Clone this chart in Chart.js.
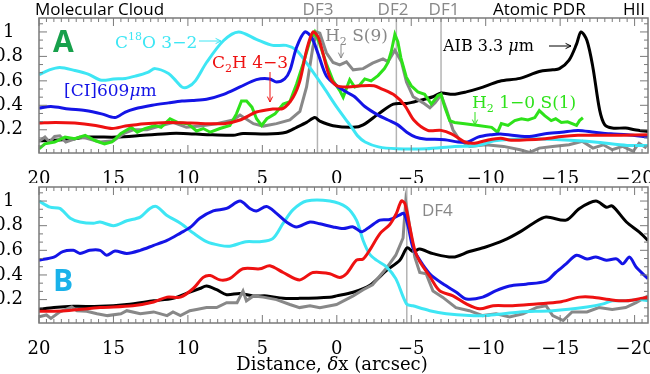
<!DOCTYPE html>
<html lang="en">
<head>
<meta charset="utf-8"/>
<title>Cuts A and B</title>
<script src="https://cdn.jsdelivr.net/npm/chart.js"></script>
<style>
  html, body { margin: 0; padding: 0; background: #fff; }
  .wrap { position: relative; width: 650px; height: 374px; }
  canvas { position: absolute; left: 0; top: 0; }
</style>
</head>
<body>
<div class="wrap">
<canvas id="cutA" width="650" height="374"></canvas>
<canvas id="cutB" width="650" height="374"></canvas>
</div>
<script>
  // axis ticks
  const xTicks = [20, 15, 10, 5, 0, -5, -10, -15, -20];
  const yTicks = [0.2, 0.4, 0.6, 0.8, 1];
  const dfA = [1.3, -4.0, -7.0];
  const dfB = [-4.7];

  // panel A profiles, [dx, normalised intensity]
  const aCyan = [[20,0.65],[19.3,0.69],[18.6,0.71],[17.6,0.685],[16.7,0.655],[15.8,0.605],[15,0.615],[14.2,0.62],[13.5,0.64],[12.7,0.67],[12.2,0.70],[11.3,0.66],[10.8,0.60],[10.4,0.55],[10,0.55],[9.5,0.60],[8.75,0.75],[7.6,0.93],[6.6,1.0],[5.4,0.94],[4.3,0.89],[3.4,0.89],[2.7,0.85],[2.0,0.74],[0.9,0.55],[0,0.385],[-0.75,0.26],[-1,0.22],[-1.4,0.15],[-1.9,0.10],[-2.8,0.06],[-4,0.045],[-6,0.045],[-7.9,0.064],[-9.5,0.072],[-10.6,0.11],[-12.8,0.127],[-15,0.118],[-17.3,0.10],[-19.5,0.072],[-20.9,0.072]];
  const aBlue = [[20,0.377],[19.2,0.39],[18,0.37],[16.9,0.357],[15.8,0.33],[14.9,0.30],[14.2,0.345],[13.6,0.37],[12.4,0.40],[11.3,0.42],[10.4,0.435],[9.7,0.44],[8.75,0.45],[7.6,0.49],[6.5,0.55],[5.4,0.61],[4.5,0.616],[4.05,0.59],[3.5,0.616],[3.15,0.684],[2.7,0.875],[2.15,1.0],[1.7,0.957],[1.25,0.82],[0.7,0.64],[0,0.56],[-0.76,0.5],[-1.2,0.47],[-1.88,0.39],[-2.77,0.32],[-3.44,0.28],[-4.1,0.24],[-4.7,0.18],[-5.3,0.14],[-5.9,0.125],[-7.25,0.118],[-8.14,0.10],[-8.8,0.10],[-9.48,0.14],[-10.4,0.16],[-11,0.165],[-12.8,0.145],[-14,0.167],[-15.1,0.18],[-16.2,0.195],[-17.3,0.18],[-18.4,0.167],[-19.5,0.16],[-20.9,0.14]];
  const aRed = [[20,0.255],[18.9,0.26],[17.6,0.255],[16.2,0.235],[15.1,0.21],[14.2,0.23],[12.9,0.25],[11.3,0.26],[9.8,0.255],[7.6,0.25],[6.5,0.28],[5.4,0.345],[4.3,0.37],[3.6,0.375],[2.93,0.467],[2.48,0.60],[2.03,0.85],[1.6,1.0],[1.25,0.957],[0.92,0.82],[0.47,0.63],[0,0.56],[-0.76,0.55],[-1.66,0.56],[-2.5,0.56],[-3.0,0.535],[-3.9,0.48],[-4.56,0.40],[-5.2,0.275],[-6.1,0.195],[-7,0.195],[-7.7,0.167],[-8.6,0.10],[-9.25,0.09],[-10.1,0.115],[-11,0.13],[-11.7,0.115],[-14,0.127],[-15.1,0.145],[-16.2,0.155],[-17.7,0.155],[-19.1,0.155],[-20.9,0.16]];
  const aGreen = [[20,0.045],[19.6,0.085],[18.95,0.10],[18.25,0.14],[17.6,0.127],[16.9,0.155],[16.2,0.11],[15.6,0.085],[15.1,0.10],[14.5,0.17],[13.8,0.22],[13.4,0.18],[12.9,0.21],[12.2,0.235],[11.8,0.22],[11.2,0.29],[10.7,0.26],[10.0,0.25],[9.42,0.19],[8.97,0.21],[8.5,0.18],[7.85,0.21],[7.18,0.235],[6.74,0.33],[6.4,0.435],[6.06,0.435],[5.7,0.385],[5.39,0.29],[5.05,0.235],[4.7,0.29],[4.15,0.33],[3.6,0.41],[3.15,0.43],[2.7,0.575],[2.26,0.74],[1.8,0.93],[1.48,1.0],[1.14,0.90],[0.7,0.74],[0.25,0.60],[-0.2,0.52],[-0.43,0.465],[-0.76,0.575],[-0.87,0.61],[-1.2,0.55],[-1.5,0.56],[-1.88,0.616],[-2.3,0.60],[-2.77,0.643],[-3.2,0.70],[-3.44,0.75],[-3.66,0.84],[-3.9,0.98],[-4.1,0.92],[-4.3,0.79],[-4.67,0.63],[-5.0,0.56],[-5.44,0.51],[-5.9,0.49],[-6.35,0.41],[-6.8,0.48],[-7.0,0.49],[-7.25,0.385],[-7.58,0.275],[-7.9,0.26],[-8.6,0.25],[-9.5,0.235],[-10.4,0.22],[-10.8,0.18],[-11.05,0.25],[-11.5,0.235],[-11.95,0.275],[-12.4,0.29],[-12.84,0.28],[-13.3,0.30],[-13.6,0.357],[-13.96,0.315],[-14.4,0.275],[-14.7,0.29],[-15.08,0.26],[-15.5,0.265],[-16.1,0.235],[-16.3,0.275],[-16.53,0.298]];
  const aGray = [[20,0.105],[19.6,0.14],[19.3,0.10],[18.95,0.145],[18.6,0.15],[18.2,0.10],[17.25,0.14],[16.8,0.13],[15.9,0.10],[15.0,0.11],[14.3,0.17],[13.67,0.20],[12.75,0.20],[11.9,0.23],[11.0,0.26],[10.1,0.22],[9.2,0.23],[8.07,0.25],[6.96,0.28],[6.5,0.32],[5.6,0.25],[4.94,0.23],[4.05,0.25],[3.15,0.28],[2.48,0.35],[2.03,0.55],[1.6,0.88],[1.36,1.0],[1.14,0.99],[0.7,0.83],[0.25,0.75],[-0.2,0.73],[-0.65,0.755],[-1.1,0.69],[-1.77,0.70],[-2.4,0.745],[-3.1,0.78],[-3.44,0.757],[-3.9,0.85],[-4.34,0.757],[-4.68,0.59],[-5.13,0.47],[-5.8,0.42],[-6.25,0.38],[-6.6,0.42],[-7.0,0.486],[-7.35,0.37],[-7.8,0.20],[-8.25,0.115],[-8.93,0.064],[-10,0.077],[-11.2,0.064],[-12.3,0.037],[-12.95,0.015],[-13.6,0.05],[-14.5,0.064],[-15.6,0.077],[-16.5,0.105],[-17.2,0.05],[-17.9,0.077],[-18.5,0.037],[-19.2,0.064],[-19.9,0.024],[-20.3,0.09],[-20.8,0.05]];
  const aBlack = [[20,0.11],[18.2,0.12],[16.6,0.14],[14.8,0.14],[13.0,0.155],[11.2,0.17],[10.3,0.17],[8.7,0.16],[6.96,0.155],[6.3,0.17],[4.7,0.165],[3.4,0.18],[2.7,0.22],[2.03,0.26],[1.48,0.30],[1.14,0.27],[0.25,0.233],[-1.1,0.22],[-1.77,0.24],[-2.8,0.33],[-3.8,0.41],[-4.7,0.415],[-5.57,0.44],[-6.46,0.47],[-7.0,0.50],[-7.8,0.49],[-8.7,0.51],[-9.6,0.54],[-10.94,0.597],[-12.3,0.62],[-13.6,0.676],[-14.5,0.69],[-14.95,0.70],[-15.6,0.77],[-16.1,0.90],[-16.4,1.0],[-16.8,0.93],[-17.2,0.71],[-17.65,0.363],[-18.0,0.24],[-18.5,0.214],[-19.4,0.214],[-20.0,0.20],[-20.9,0.185]];

  // panel B profiles
  const bCyan = [[20,1.0],[19.26,0.95],[18.6,0.94],[17.9,0.86],[17.25,0.83],[16.35,0.82],[15.9,0.83],[15.0,0.80],[14.1,0.84],[13.2,0.87],[12.55,0.94],[12.1,0.955],[11.43,0.885],[10.5,0.82],[9.64,0.74],[8.75,0.67],[7.85,0.64],[7.2,0.633],[6.1,0.67],[5.17,0.67],[4.3,0.695],[3.6,0.82],[2.93,0.93],[2.03,1.0],[0.47,1.0],[-0.65,0.95],[-1.32,0.845],[-1.77,0.68],[-2.2,0.57],[-2.66,0.52],[-3.3,0.47],[-3.96,0.37],[-4.68,0.165],[-5.1,0.15],[-6.24,0.11],[-7.35,0.085],[-8.9,0.07],[-10,0.07],[-11.2,0.085],[-12.3,0.10],[-14.5,0.11],[-16.8,0.14],[-17.9,0.165],[-18.5,0.19],[-19.4,0.19],[-20.3,0.20],[-20.9,0.19]];
  const bBlue = [[20,0.52],[19.0,0.545],[18.4,0.59],[17.7,0.60],[17.25,0.575],[16.6,0.60],[15.9,0.60],[15.46,0.56],[14.9,0.594],[14.1,0.575],[13.2,0.60],[12.3,0.64],[11.4,0.68],[10.5,0.74],[9.8,0.79],[9.2,0.86],[8.3,0.92],[7.4,0.94],[6.5,1.0],[5.84,0.94],[5.4,0.92],[4.72,0.955],[4.05,0.90],[3.38,0.83],[2.7,0.79],[1.8,0.83],[1.14,0.815],[0.25,0.79],[-0.43,0.777],[-1.1,0.79],[-1.66,0.75],[-2.2,0.79],[-2.9,0.845],[-3.56,0.85],[-4.2,0.885],[-4.5,0.90],[-4.8,0.79],[-5.1,0.627],[-5.57,0.52],[-6.24,0.41],[-7.1,0.33],[-8.03,0.26],[-8.7,0.205],[-9.8,0.22],[-10.7,0.273],[-11.6,0.31],[-12.7,0.325],[-14.05,0.35],[-14.7,0.42],[-15.4,0.49],[-16.1,0.56],[-16.8,0.53],[-17.4,0.545],[-18.1,0.52],[-18.8,0.53],[-19.2,0.49],[-19.66,0.545],[-20.1,0.465],[-20.9,0.37]];
  const bRed = [[20,0.105],[18.2,0.11],[15.9,0.135],[13.7,0.15],[12.3,0.18],[11.4,0.22],[10.5,0.22],[9.64,0.29],[8.97,0.38],[8.5,0.395],[7.85,0.36],[7.2,0.37],[6.3,0.45],[5.17,0.45],[4.5,0.475],[3.6,0.42],[2.5,0.36],[1.6,0.42],[0.47,0.41],[-0.2,0.38],[-0.65,0.41],[-1.32,0.52],[-1.77,0.53],[-2.2,0.60],[-2.9,0.736],[-3.56,0.81],[-4.0,0.90],[-4.34,1.0],[-4.57,0.98],[-4.9,0.79],[-5.24,0.60],[-5.57,0.51],[-6.24,0.39],[-6.9,0.273],[-7.8,0.23],[-8.7,0.165],[-9.6,0.125],[-10.5,0.15],[-11.8,0.15],[-13.4,0.165],[-14.95,0.18],[-16.3,0.22],[-17.2,0.22],[-18.3,0.20],[-19.4,0.19],[-20.9,0.22]];
  const bBlack = [[20,0.12],[19.0,0.135],[17.7,0.145],[15.9,0.145],[14.1,0.16],[12.3,0.19],[11.0,0.21],[9.87,0.26],[9.2,0.29],[8.75,0.31],[8.07,0.28],[7.4,0.24],[6.5,0.25],[5.6,0.23],[4.7,0.23],[3.6,0.21],[2.5,0.21],[0.47,0.22],[0.02,0.23],[-1.1,0.26],[-2.2,0.314],[-3.34,0.437],[-4.23,0.52],[-4.73,0.62],[-5.13,0.59],[-5.57,0.61],[-6.46,0.573],[-7.8,0.545],[-8.9,0.59],[-10.0,0.627],[-11.2,0.68],[-12.3,0.75],[-13.2,0.82],[-14.05,0.87],[-15.4,0.845],[-16.3,0.94],[-17.4,1.0],[-18.1,0.95],[-18.5,0.96],[-19.45,0.83],[-20.3,0.75],[-20.9,0.68]];
  const bGray = [[20,0.06],[19.5,0.075],[19.2,0.047],[18.6,0.10],[17.8,0.14],[17.45,0.11],[16.8,0.105],[16.1,0.085],[15.4,0.07],[14.5,0.085],[14.1,0.11],[13.2,0.085],[12.3,0.10],[11.4,0.07],[11.0,0.10],[10.5,0.07],[9.87,0.11],[9.42,0.12],[8.75,0.135],[8.07,0.135],[7.4,0.175],[6.7,0.175],[6.3,0.27],[6.07,0.19],[5.6,0.23],[4.94,0.22],[4.05,0.20],[3.15,0.16],[2.5,0.135],[1.8,0.15],[1.14,0.135],[0.02,0.16],[-1.1,0.23],[-1.77,0.28],[-2.4,0.32],[-3.3,0.45],[-3.96,0.56],[-4.45,0.70],[-4.63,0.995],[-4.9,0.79],[-5.24,0.545],[-5.57,0.42],[-6.0,0.41],[-6.46,0.27],[-7.1,0.22],[-8.0,0.135],[-8.9,0.11],[-9.8,0.07],[-10.7,0.085],[-11.6,0.06],[-12.5,0.085],[-13.4,0.135],[-14.05,0.15],[-14.5,0.07],[-15.2,0.03],[-15.8,0.10],[-16.8,0.10],[-17.6,0.135],[-18.5,0.12],[-19.4,0.135],[-20.1,0.175],[-20.9,0.23]];

  const C = { cyan: '#3ee6f4', blue: '#1414e6', red: '#ee1111', green: '#2ee21a', gray: '#888888', black: '#000000' };
  const serif = '"DejaVu Serif", serif';
  const sans = '"Open Sans", "Noto Sans", sans-serif';
  const minus = v => v < 0 ? '\u2212' + (-v) : String(v);

  // draw text with sub/superscript/italic pieces: parts = [[text, 'n'|'it'|'sub'|'sup'], ...]
  function partFont(t, p) {
    const size = t.size || 17;
    const small = p[1] === 'sub' || p[1] === 'sup';
    const style = p[1] === 'it' ? 'italic ' : '';
    return style + (t.weight || '') + ' ' + (small ? Math.round(size * 0.65) : size) + 'px ' + (t.family || serif);
  }
  function richText(ctx, t) {
    const size = t.size || 17;
    let x = t.x;
    if (t.align === 'center') {
      let w = 0;
      t.parts.forEach(p => { ctx.font = partFont(t, p); w += ctx.measureText(p[0]).width; });
      x -= w / 2;
    }
    ctx.fillStyle = t.color;
    ctx.textAlign = 'left';
    ctx.textBaseline = 'alphabetic';
    t.parts.forEach(p => {
      ctx.font = partFont(t, p);
      const dy = p[1] === 'sup' ? -size * 0.45 : p[1] === 'sub' ? size * 0.22 : 0;
      ctx.fillText(p[0], x, t.y + dy);
      x += ctx.measureText(p[0]).width;
    });
  }

  function arrow(ctx, a) {
    ctx.strokeStyle = a.color; ctx.lineWidth = 1;
    ctx.beginPath(); ctx.moveTo(a.x1, a.y1); ctx.lineTo(a.x2, a.y2); ctx.stroke();
    const ang = Math.atan2(a.y2 - a.y1, a.x2 - a.x1), h = 6;
    ctx.beginPath();
    ctx.moveTo(a.x2 - h * Math.cos(ang - 0.45), a.y2 - h * Math.sin(ang - 0.45));
    ctx.lineTo(a.x2, a.y2);
    ctx.lineTo(a.x2 - h * Math.cos(ang + 0.45), a.y2 - h * Math.sin(ang + 0.45));
    ctx.stroke();
  }

  const decor = {
    id: 'decor',
    beforeDatasetsDraw(chart, args, opts) {
      const { ctx, chartArea: a, scales: { x } } = chart;
      ctx.save();
      ctx.strokeStyle = '#b4b4b4'; ctx.lineWidth = 1.5;
      (opts.lines || []).forEach(v => {
        const px = x.getPixelForValue(v);
        ctx.beginPath(); ctx.moveTo(px, a.top); ctx.lineTo(px, a.bottom); ctx.stroke();
      });
      ctx.restore();
    },
    afterDatasetsDraw(chart, args, opts) {
      const { ctx, chartArea: a, scales: { x, y } } = chart;
      ctx.save();
      ctx.strokeStyle = '#7a7a7a'; ctx.lineWidth = 1.5;
      ctx.strokeRect(a.left, a.top, a.right - a.left, a.bottom - a.top);
      ctx.lineWidth = 1;
      ctx.beginPath();
      for (let k = -42; k <= 40; k++) {
        const v = k / 2;
        if (v < x.min || v > x.max) continue;
        const px = x.getPixelForValue(v), len = k % 10 === 0 ? 8 : 4;
        ctx.moveTo(px, a.top); ctx.lineTo(px, a.top + len);
        ctx.moveTo(px, a.bottom); ctx.lineTo(px, a.bottom - len);
      }
      for (let k = 0; k <= 17; k++) {
        const v = k * 0.2 / 3;
        if (v < y.min || v > y.max) continue;
        const py = y.getPixelForValue(v), len = k % 3 === 0 ? 8 : 4;
        ctx.moveTo(a.left, py); ctx.lineTo(a.left + len, py);
        ctx.moveTo(a.right, py); ctx.lineTo(a.right - len, py);
      }
      ctx.stroke();
      (opts.texts || []).forEach(t => richText(ctx, t));
      (opts.arrows || []).forEach(ar => arrow(ctx, ar));
      ctx.restore();
    }
  };

  function panel(id, series, cfg) {
    return new Chart(document.getElementById(id), {
      type: 'line',
      data: {
        datasets: series.map(s => ({
          label: s.label,
          data: s.pts.map(p => ({ x: p[0], y: p[1] })),
          borderColor: s.color,
          borderWidth: 3,
          pointRadius: 0,
          tension: s.smooth ? 0.3 : 0,
          fill: false
        }))
      },
      options: {
        responsive: false,
        animation: false,
        layout: { padding: cfg.padding },
        plugins: {
          legend: { display: false },
          tooltip: { enabled: false },
          decor: { lines: cfg.lines, texts: cfg.texts, arrows: cfg.arrows }
        },
        scales: {
          x: {
            type: 'linear', reverse: true, min: -20.9, max: 20,
            afterBuildTicks: s => { s.ticks = xTicks.map(v => ({ value: v })); },
            afterFit: s => { s.height = cfg.xHeight; s.paddingLeft = 0; s.paddingRight = 0; },
            grid: { display: false },
            border: { display: false },
            ticks: { display: cfg.xLabels, autoSkip: false, maxRotation: 0, padding: 8, color: '#000',
                     font: { family: serif, size: 18 }, callback: v => minus(v) }
          },
          y: {
            min: 0.01, max: 1.114,
            afterBuildTicks: s => { s.ticks = yTicks.map(v => ({ value: v })); },
            afterFit: s => { s.width = 39; s.paddingTop = 0; s.paddingBottom = 0; },
            grid: { display: false },
            border: { display: false },
            ticks: { padding: 8, crossAlign: 'center', color: '#000',
                     font: { family: serif, size: 18 }, callback: v => String(v) }
          }
        }
      },
      plugins: [decor]
    });
  }

  panel('cutA', [
    { label: 'C2H 4-3', pts: aRed, color: C.red, smooth: true },
    { label: '[CI] 609um', pts: aBlue, color: C.blue, smooth: true },
    { label: 'C18O 3-2', pts: aCyan, color: C.cyan, smooth: true },
    { label: 'H2 1-0 S(1)', pts: aGreen, color: C.green },
    { label: 'H2 S(9)', pts: aGray, color: C.gray },
    { label: 'AIB 3.3um', pts: aBlack, color: C.black, smooth: true }
  ], {
    padding: { left: 0, right: 2, top: 18, bottom: 191 },
    xHeight: 30, xLabels: true, lines: dfA,
    texts: [
      { parts: [['Molecular Cloud', 'n']], x: 35, y: 15, color: '#000', family: sans, size: 17 },
      { parts: [['DF3', 'n']], x: 318, y: 15, color: '#888', family: sans, size: 17, align: 'center' },
      { parts: [['DF2', 'n']], x: 393, y: 15, color: '#888', family: sans, size: 17, align: 'center' },
      { parts: [['DF1', 'n']], x: 444, y: 15, color: '#888', family: sans, size: 17, align: 'center' },
      { parts: [['Atomic PDR', 'n']], x: 493, y: 15, color: '#000', family: sans, size: 17 },
      { parts: [['HII', 'n']], x: 623, y: 15, color: '#000', family: sans, size: 17 },
      { parts: [['A', 'n']], x: 53, y: 52, color: '#17a04b', family: sans, size: 30, weight: 'bold' },
      { parts: [['C', 'n'], ['18', 'sup'], ['O 3\u22122', 'n']], x: 115, y: 48, color: C.cyan },
      { parts: [['C', 'n'], ['2', 'sub'], ['H 4\u22123', 'n']], x: 212, y: 68, color: C.red },
      { parts: [['[CI]609', 'n'], ['\u03bc', 'it'], ['m', 'n']], x: 64, y: 96, color: C.blue },
      { parts: [['H', 'n'], ['2', 'sub'], [' S(9)', 'n']], x: 325, y: 41, color: C.gray },
      { parts: [['AIB 3.3 ', 'n'], ['\u03bc', 'it'], ['m', 'n']], x: 443, y: 51, color: '#000', size: 16 },
      { parts: [['H', 'n'], ['2', 'sub'], [' 1\u22120 S(1)', 'n']], x: 472, y: 108, color: C.green }
    ],
    arrows: [
      { x1: 199, y1: 41, x2: 221, y2: 41, color: C.cyan },
      { x1: 270, y1: 72, x2: 270, y2: 102, color: C.red },
      { x1: 341, y1: 45, x2: 341, y2: 58, color: C.gray },
      { x1: 549, y1: 46, x2: 571, y2: 46, color: '#000' },
      { x1: 475, y1: 112, x2: 475, y2: 125, color: C.green }
    ]
  });

  panel('cutB', [
    { label: 'C2H 4-3', pts: bRed, color: C.red, smooth: true },
    { label: '[CI] 609um', pts: bBlue, color: C.blue, smooth: true },
    { label: 'C18O 3-2', pts: bCyan, color: C.cyan, smooth: true },
    { label: 'H2 S(9)', pts: bGray, color: C.gray },
    { label: 'AIB 3.3um', pts: bBlack, color: C.black, smooth: true }
  ], {
    padding: { left: 0, right: 2, top: 187, bottom: 0 },
    xHeight: 51, xLabels: true, lines: dfB,
    texts: [
      { parts: [['B', 'n']], x: 53, y: 291, color: '#1ab2ea', family: sans, size: 30, weight: 'bold' },
      { parts: [['DF4', 'n']], x: 422, y: 216, color: '#888', family: sans, size: 17 },
      { parts: [['Distance, ', 'n'], ['\u03b4', 'it'], ['x (arcsec)', 'n']], x: 332, y: 370, color: '#000', size: 18, align: 'center' }
    ],
    arrows: []
  });
</script>
</body>
</html>
